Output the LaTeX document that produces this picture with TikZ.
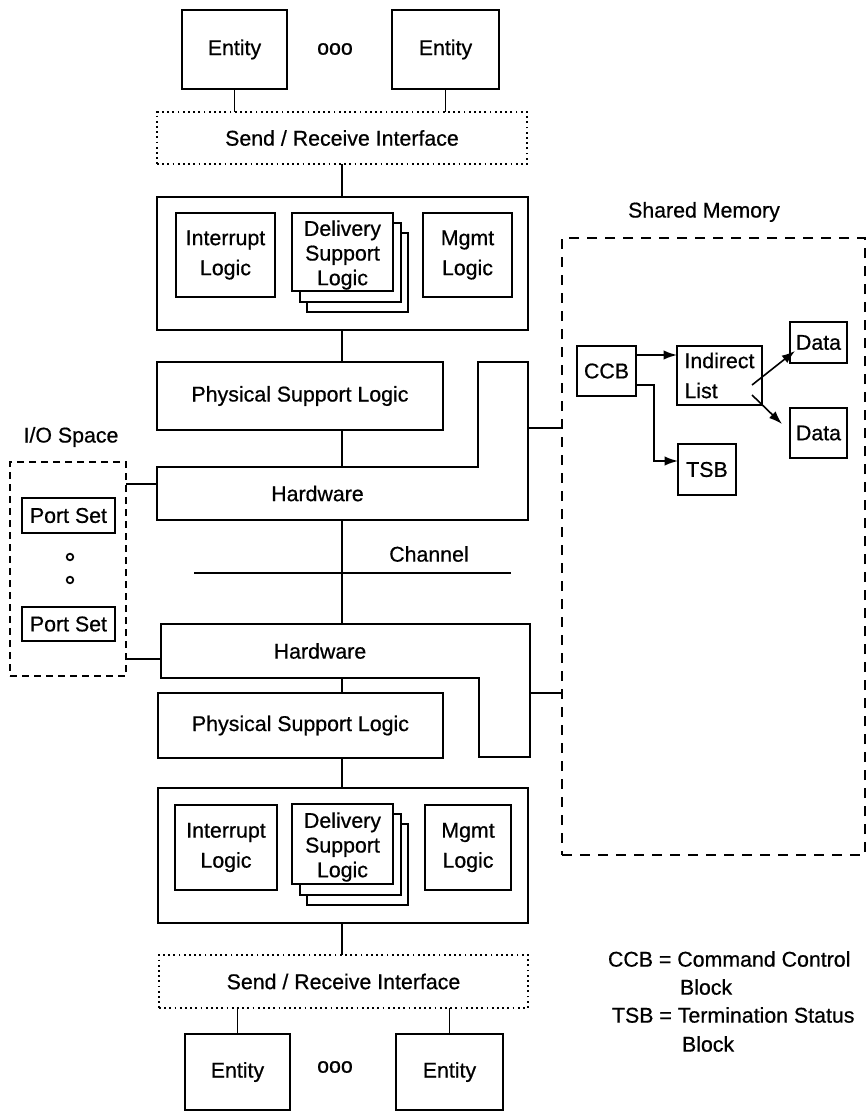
\documentclass[tikz,border=0pt]{standalone}
\usepackage{fontspec}
\setmainfont{Liberation Sans}[FakeBold=0.6]
\usetikzlibrary{arrows.meta}
\newcommand\myfs{\fontsize{16}{22.5}\selectfont}
\newcommand\rbox[7]{\node[#2, minimum width={(#5-#3)*0.75pt}, minimum height={(#6-#4)*0.75pt}] (#1) at ({(#3+#5)/2},{(#4+#6)/2}) {#7};}
\begin{document}
\begin{tikzpicture}[x=0.75pt,y=-0.75pt,
  every node/.style={inner sep=0pt, outer sep=0pt, align=center, font=\myfs},
  heavybox/.style={draw, line width=1.9pt},
  innerbox/.style={draw, line width=1.6pt, fill=white},
  hwshape/.style={draw, line width=2pt, line join=miter},
  srbox/.style={draw, line width=1.5pt, dash pattern=on 1.3pt off 2.6pt},
  membox/.style={draw, line width=1.2pt},
  iobox/.style={draw, line width=1.1pt, dash pattern=on 5pt off 4pt},
  smbox/.style={draw, line width=1.2pt, dash pattern=on 7.5pt off 6pt},
  conn/.style={line width=1.05pt},
  arr/.style={line width=1.2pt, -{Latex[length=10pt,width=7pt]}},
  plain/.style={}]
\useasboundingbox (0,0) rectangle (867,1113);

% ---------- top ----------
\rbox{e1}{heavybox}{182}{10}{287}{89}{Entity}
\rbox{e2}{heavybox}{392}{10}{499}{89}{Entity}
\node (dt1) at (335,49) {ooo};
\rbox{sr1}{srbox}{157}{112}{527}{164}{Send / Receive Interface}
\rbox{lb1}{heavybox}{157}{197}{528}{330}{}
\rbox{in1}{innerbox}{176}{213}{275}{297}{Interrupt\\Logic}
\rbox{d1c}{innerbox}{307}{233}{408}{312}{}
\rbox{d1b}{innerbox}{300}{223}{401}{302}{}
\rbox{d1a}{innerbox}{292}{213}{393}{291}{}
\node[font=\fontsize{16}{18.5}\selectfont] (d1t) at (342.5,255) {Delivery\\Support\\Logic};
\rbox{mg1}{innerbox}{423}{213}{512}{297}{Mgmt\\Logic}
\rbox{psl1}{heavybox}{157}{362}{443}{430}{Physical Support Logic}
\draw[hwshape] (157,467) -- (478,467) -- (478,362) -- (528,362) -- (528,520) -- (157,520) -- cycle;
\rbox{hw1}{plain}{157}{467}{478}{520}{Hardware}

% ---------- channel ----------
\coordinate (chL) at (194,573);
\coordinate (chR) at (511,573);
\draw[line width=1.7pt] (chL) -- (chR);
\node (chl) at (429,554) {Channel};

% ---------- bottom ----------
\draw[hwshape] (161,624) -- (530,624) -- (530,757) -- (479,757) -- (479,678) -- (161,678) -- cycle;
\rbox{hw2}{plain}{161}{624}{479}{678}{Hardware}
\rbox{psl2}{heavybox}{158}{693}{443}{758}{Physical Support Logic}
\rbox{lb2}{heavybox}{158}{788}{528}{923}{}
\rbox{in2}{innerbox}{175}{805}{277}{890}{Interrupt\\Logic}
\rbox{d2c}{innerbox}{307}{824}{408}{905}{}
\rbox{d2b}{innerbox}{300}{814}{401}{895}{}
\rbox{d2a}{innerbox}{292}{804}{393}{884}{}
\node[font=\fontsize{16}{18.5}\selectfont] (d2t) at (342.5,847) {Delivery\\Support\\Logic};
\rbox{mg2}{innerbox}{425}{805}{511}{890}{Mgmt\\Logic}
\rbox{sr2}{srbox}{159}{955}{528}{1008}{Send / Receive Interface}
\rbox{e3}{heavybox}{185}{1034}{290}{1110}{Entity}
\rbox{e4}{heavybox}{396}{1034}{503}{1110}{Entity}
\node (dt2) at (335,1067) {ooo};

% ---------- vertical connectors ----------
\draw[conn] (e1.south) -- (e1.south |- sr1.north);
\draw[conn] (e2.south) -- (e2.south |- sr1.north);
\draw[conn] (sr1.south) -- (sr1.south |- lb1.north);
\draw[conn] (sr1.south |- lb1.south) -- (sr1.south |- psl1.north);
\draw[conn] (sr1.south |- psl1.south) -- (sr1.south |- hw1.north);
\draw[line width=1.9pt] (sr1.south |- hw1.south) -- (sr1.south |- hw2.north);
\draw[conn] (sr1.south |- hw2.south) -- (sr1.south |- psl2.north);
\draw[conn] (sr1.south |- psl2.south) -- (sr1.south |- lb2.north);
\draw[conn] (sr1.south |- lb2.south) -- (sr1.south |- sr2.north);
\draw[conn] (e3.north) -- (e3.north |- sr2.south);
\draw[conn] (e4.north) -- (e4.north |- sr2.south);

% ---------- I/O space ----------
\node (iol) at (71,437) {I/O Space};
\rbox{io}{iobox}{10}{462}{126}{676}{}
\rbox{ps1}{membox}{22}{498}{115}{533}{Port Set}
\rbox{ps2}{membox}{22}{607}{115}{641}{Port Set}
\draw[line width=1.3pt] (70,557) circle (3.3);
\draw[line width=1.3pt] (70,580) circle (3.3);
\coordinate (io1) at (126,484);
\coordinate (io2) at (126,659);
\draw[conn] (io1) -- (io1 -| hw1.west);
\draw[conn] (io2) -- (io2 -| hw2.west);

% ---------- shared memory ----------
\node (sml) at (704,212) {Shared Memory};
\rbox{sm}{smbox}{562}{238}{865}{855}{}
\coordinate (hr1) at (528,428);
\coordinate (hr2) at (530,693);
\draw[conn] (hr1) -- (hr1 -| sm.west);
\draw[conn] (hr2) -- (hr2 -| sm.west);
\rbox{ccb}{membox}{577}{346}{636}{396}{CCB}
\node[draw, line width=1.2pt, minimum width={85*0.75pt}, minimum height={59*0.75pt}, align=left, text width={70*0.75pt}] (il) at (719.5,375.5) {Indirect\\List};
\rbox{da1}{membox}{790}{322}{847}{363}{Data}
\rbox{da2}{membox}{790}{408}{847}{458}{Data}
\rbox{tsb}{membox}{678}{444}{736}{495}{TSB}
\draw[arr] ([yshift=12pt]ccb.east) -- ([yshift=12pt]ccb.east -| il.west);
\coordinate (bend) at (654,461);
\draw[arr] ([yshift=-10.5pt]ccb.east) -| (bend) -- (bend -| tsb.west);
\coordinate (ila) at (752,385);
\coordinate (ilb) at (752,395);
\coordinate (dta) at (795,351);
\coordinate (dtb) at (782,424);
\draw[arr] (ila) -- (dta);
\draw[arr] (ilb) -- (dtb);

% ---------- legend ----------
\node[anchor=west] (lg1) at (608,959) {CCB = Command Control};
\node[anchor=west] (lg2) at (680,987) {Block};
\node[anchor=west] (lg3) at (612,1015) {TSB = Termination Status};
\node[anchor=west] (lg4) at (682,1044) {Block};
\end{tikzpicture}
\end{document}
